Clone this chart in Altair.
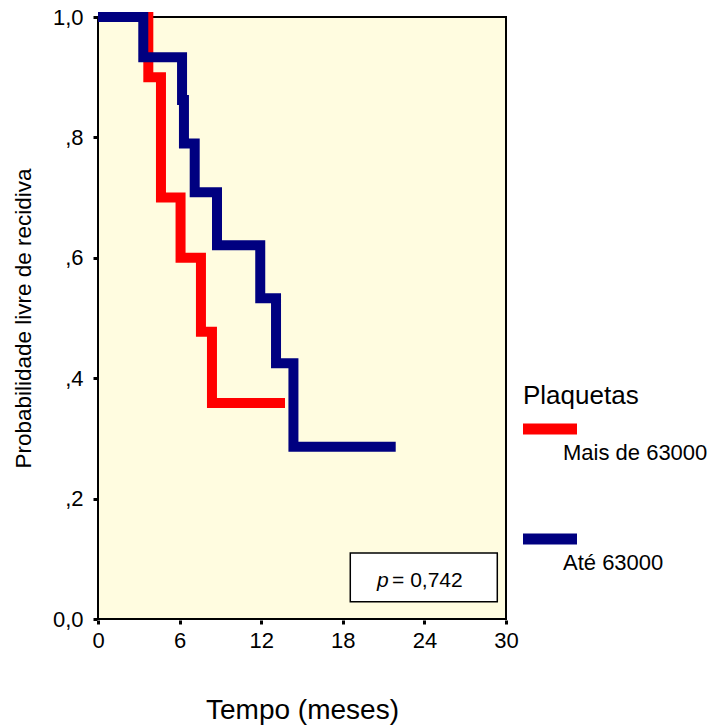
import altair as alt
import pandas as pd

# --- data ---
red_label = "Mais de 63000"
blue_label = "Até 63000"
red_t = [0, 3.70, 4.63, 6.07, 7.57, 8.38, 13.75]
red_s = [1.0, 0.90, 0.70, 0.60, 0.477, 0.359, 0.359]
blue_t = [0, 3.33, 6.18, 6.32, 7.11, 8.75, 11.93, 13.09, 14.37, 21.89]
blue_s = [1.0, 0.933, 0.862, 0.79, 0.709, 0.621, 0.533, 0.425, 0.286, 0.286]

x_ticks = [0, 6, 12, 18, 24, 30]
y_ticks = [0, 0.2, 0.4, 0.6, 0.8, 1.0]

box_t = [18.55, 29.36]
box_s = [0.1096, 0.0287]
p_italic = "p"
p_rest = "= 0,742"
p_pos_t = [20.51, 21.62]
p_pos_s = 0.053

FONT = "Liberation Sans"

df = pd.DataFrame(
    {"t": red_t + blue_t,
     "s": red_s + blue_s,
     "g": [red_label] * len(red_t) + [blue_label] * len(blue_t)}
)

xscale = alt.Scale(domain=[0, 30], nice=False, zero=False)
yscale = alt.Scale(domain=[0, 1], nice=False, zero=False)

xaxis = alt.Axis(
    values=x_ticks, title="Tempo (meses)", grid=False, domain=False,
    tickSize=4, tickWidth=3, tickColor="black", offset=1,
    labelFont=FONT, labelFontSize=22, labelColor="black", labelPadding=6,
    labelFlush=False,
    titleFont=FONT, titleFontSize=28, titleFontWeight="normal", titleColor="black",
    titleBaseline="alphabetic", titleX=204, titleY=98,
)
yaxis = alt.Axis(
    values=y_ticks, title="Probabilidade livre de recidiva", grid=False, domain=False,
    tickSize=4, tickWidth=3, tickColor="black", offset=1,
    labelFont=FONT, labelFontSize=22, labelColor="black", labelPadding=10,
    labelFlush=False,
    labelExpr="datum.value == 0 ? '0,0' : (datum.value == 1 ? '1,0' : ',' + round(datum.value * 10))",
    titleFont=FONT, titleFontSize=22.5, titleFontWeight="normal", titleColor="black",
    titleBaseline="alphabetic", titleAngle=270, titleAlign="center", titleX=-67, titleY=301,
)

color = alt.Color(
    "g:N",
    scale=alt.Scale(domain=[red_label, blue_label], range=["#FF0000", "#000080"]),
    legend=alt.Legend(
        title="Plaquetas", orient="none", legendX=425, legendY=366,
        titleFont=FONT, titleFontSize=26, titleFontWeight="normal", titleColor="black",
        titlePadding=0, padding=0,
        symbolType="M-1.379,0H2.345", symbolSize=841, symbolStrokeWidth=11, symbolOffset=0,
        labelFont=FONT, labelFontSize=22, labelColor="black",
        labelBaseline="middle", labelExpr="['', '', datum.label]",
        labelOffset=0, rowPadding=29,
    ),
)

base = alt.Chart(df)
red_line = base.transform_filter(alt.datum.g == red_label).mark_line(
    interpolate="step-after", strokeWidth=10, strokeCap="butt", strokeJoin="miter"
).encode(x=alt.X("t:Q", scale=xscale, axis=xaxis), y=alt.Y("s:Q", scale=yscale, axis=yaxis), color=color)
blue_line = base.transform_filter(alt.datum.g == blue_label).mark_line(
    interpolate="step-after", strokeWidth=10, strokeCap="butt", strokeJoin="miter"
).encode(x=alt.X("t:Q", scale=xscale), y=alt.Y("s:Q", scale=yscale), color=color)

box_df = pd.DataFrame({"x1": [box_t[0]], "x2": [box_t[1]], "y1": [box_s[0]], "y2": [box_s[1]]})
box = alt.Chart(box_df).mark_rect(fill="white", stroke="black", strokeWidth=1.5).encode(
    x=alt.X("x1:Q", scale=xscale), x2="x2:Q", y=alt.Y("y1:Q", scale=yscale), y2="y2:Q"
)

txt_df = pd.DataFrame({"t": p_pos_t, "s": [p_pos_s, p_pos_s], "txt": [p_italic, p_rest]})
p1 = alt.Chart(txt_df.iloc[[0]]).mark_text(
    font=FONT, fontSize=21, fontStyle="italic", align="left", baseline="alphabetic", color="black"
).encode(x=alt.X("t:Q", scale=xscale), y=alt.Y("s:Q", scale=yscale), text="txt:N")
p2 = alt.Chart(txt_df.iloc[[1]]).mark_text(
    font=FONT, fontSize=21, align="left", baseline="alphabetic", color="black"
).encode(x=alt.X("t:Q", scale=xscale), y=alt.Y("s:Q", scale=yscale), text="txt:N")

chart = alt.layer(box, red_line, blue_line, p1, p2).properties(
    width=408, height=602,
    padding={"left": 98, "top": 17, "right": 209, "bottom": 108},
    autosize=alt.AutoSizeParams(type="none"),
).configure(background="white").configure_view(fill="#FFFCE0", stroke="black", strokeWidth=2)

chart.save("out.html", embed_options={"renderer": "svg", "actions": False})
